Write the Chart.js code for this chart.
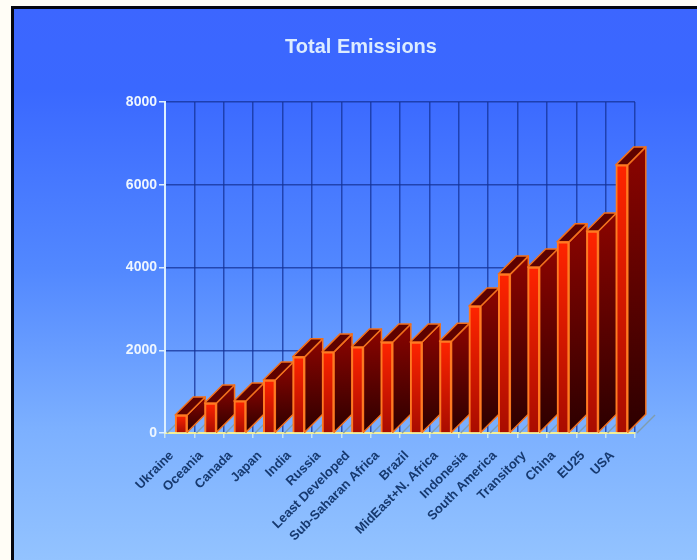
<!DOCTYPE html>
<html>
<head>
<meta charset="utf-8">
<title>Total Emissions</title>
<script src="https://cdn.jsdelivr.net/npm/chart.js@4"></script>
<style>
    html, body { margin: 0; padding: 0; background: #fffdf6; overflow: hidden; }
    #panel {
        position: absolute; left: 11px; top: 6px; width: 686px; height: 554px;
        box-sizing: border-box;
        border-left: 3px solid #05060f; border-top: 3px solid #05060f;
        background: linear-gradient(to bottom, #3c66ff 0, #3a68ff 80px, #5288ff 260px, #7cb0ff 420px, #93c3ff 100%);
    }
    #wrap { position: absolute; left: 87px; top: 0; width: 610px; height: 560px; }
</style>
</head>
<body>
<div id="panel"></div>
<div id="wrap"><canvas id="emissionsChart"></canvas></div>
<script>
const regions = ['Ukraine', 'Oceania', 'Canada', 'Japan', 'India', 'Russia', 'Least Developed',
    'Sub-Saharan Africa', 'Brazil', 'MidEast+N. Africa', 'Indonesia', 'South America',
    'Transitory', 'China', 'EU25', 'USA'];
const emissions = [435, 725, 775, 1280, 1840, 1960, 2080, 2200, 2200, 2220, 3070, 3840, 4010, 4620, 4880, 6480];
const yTicks = [0, 2000, 4000, 6000, 8000];

// Box depth of the fake 3D bars, and a small nudge of the whole bar row
const DEPTH_X = 18;
const DEPTH_Y = 18;
const BAR_SHIFT = 1.5;

function verticalGrad(ctx, top, bottom, from, to) {
    const g = ctx.createLinearGradient(0, top, 0, bottom);
    g.addColorStop(0, from);
    g.addColorStop(1, to);
    return g;
}

// Draws floor marks plus the side and top faces; the library then paints the fronts over them
const boxFaces = {
    id: 'boxFaces',
    beforeDatasetsDraw(chart) {
        const ctx = chart.ctx;
        const { left, right, bottom } = chart.chartArea;

        // floor diagonals at each category boundary
        ctx.save();
        ctx.strokeStyle = 'rgba(130, 155, 165, 0.9)';
        ctx.lineWidth = 1.5;
        const step = (right - left) / regions.length;
        for (let i = 0; i <= regions.length; i++) {
            const x = left + step * i;
            ctx.beginPath();
            ctx.moveTo(x + 2, bottom);
            ctx.lineTo(x + DEPTH_X + 2, bottom - DEPTH_Y);
            ctx.stroke();
        }
        ctx.restore();

        ctx.save();
        ctx.translate(BAR_SHIFT, 0);
        chart.getDatasetMeta(0).data.forEach(bar => {
            const l = bar.x - bar.width / 2;
            const r = bar.x + bar.width / 2;
            const t = bar.y;
            const b = bar.base;

            ctx.lineWidth = 1.5;
            ctx.lineJoin = 'round';
            ctx.strokeStyle = '#f2701c';

            // side
            ctx.beginPath();
            ctx.moveTo(r, t);
            ctx.lineTo(r + DEPTH_X, t - DEPTH_Y);
            ctx.lineTo(r + DEPTH_X, b - DEPTH_Y);
            ctx.lineTo(r, b);
            ctx.closePath();
            ctx.fillStyle = verticalGrad(ctx, t - DEPTH_Y, b, '#8c0400', '#2c0000');
            ctx.fill();
            ctx.stroke();

            // top
            ctx.beginPath();
            ctx.moveTo(l, t);
            ctx.lineTo(l + DEPTH_X, t - DEPTH_Y);
            ctx.lineTo(r + DEPTH_X, t - DEPTH_Y);
            ctx.lineTo(r, t);
            ctx.closePath();
            ctx.fillStyle = '#5e0200';
            ctx.fill();
            ctx.stroke();
        });
    },
    afterDatasetsDraw(chart) {
        chart.ctx.restore();
    }
};

new Chart(document.getElementById('emissionsChart'), {
    type: 'bar',
    plugins: [boxFaces],
    data: {
        labels: regions,
        datasets: [{
            data: emissions,
            barThickness: 12,
            borderWidth: 2,
            borderColor: '#ff7a22',
            clip: false,
            backgroundColor(c) {
                const yScale = c.chart.scales.y;
                if (!yScale || c.type !== 'data') return '#e01000';
                const top = yScale.getPixelForValue(emissions[c.dataIndex]);
                const base = yScale.getPixelForValue(0);
                if (!Number.isFinite(top) || !Number.isFinite(base)) return '#e01000';
                return verticalGrad(c.chart.ctx, top, base, '#ff2400', '#a80c00');
            }
        }]
    },
    options: {
        responsive: true,
        maintainAspectRatio: false,
        animation: false,
        layout: { padding: { right: 62 } },
        plugins: {
            legend: { display: false },
            tooltip: { enabled: false },
            title: {
                display: true,
                text: 'Total Emissions',
                color: '#dcecff',
                font: { family: 'Liberation Sans', size: 20, weight: 'bold' },
                padding: { top: 35, bottom: 43 }
            }
        },
        scales: {
            x: {
                afterFit(scale) { scale.height = 127; },
                border: { color: '#f3f09a', width: 2 },
                grid: {
                    color: 'rgba(20, 50, 150, 0.75)',
                    tickColor: 'rgba(215, 240, 235, 0.8)',
                    tickLength: 5,
                    lineWidth: 1.5
                },
                ticks: {
                    color: '#173a70',
                    font: { family: 'Liberation Sans', size: 13, weight: 'bold' },
                    minRotation: 45,
                    maxRotation: 45,
                    autoSkip: false,
                    padding: 10,
                    labelOffset: -8
                }
            },
            y: {
                min: 0,
                max: 8000,
                afterFit(scale) { scale.width = 78; },
                afterBuildTicks(scale) { scale.ticks = yTicks.map(v => ({ value: v })); },
                border: { color: '#dcefff', width: 2 },
                grid: {
                    color: 'rgba(20, 50, 150, 0.75)',
                    tickColor: '#dcefff',
                    tickLength: 6,
                    lineWidth: 1.5
                },
                ticks: {
                    color: '#eef6ff',
                    font: { family: 'Liberation Sans', size: 14, weight: 'bold' },
                    padding: 2,
                    callback: v => String(v)
                }
            }
        }
    }
});
</script>
</body>
</html>
